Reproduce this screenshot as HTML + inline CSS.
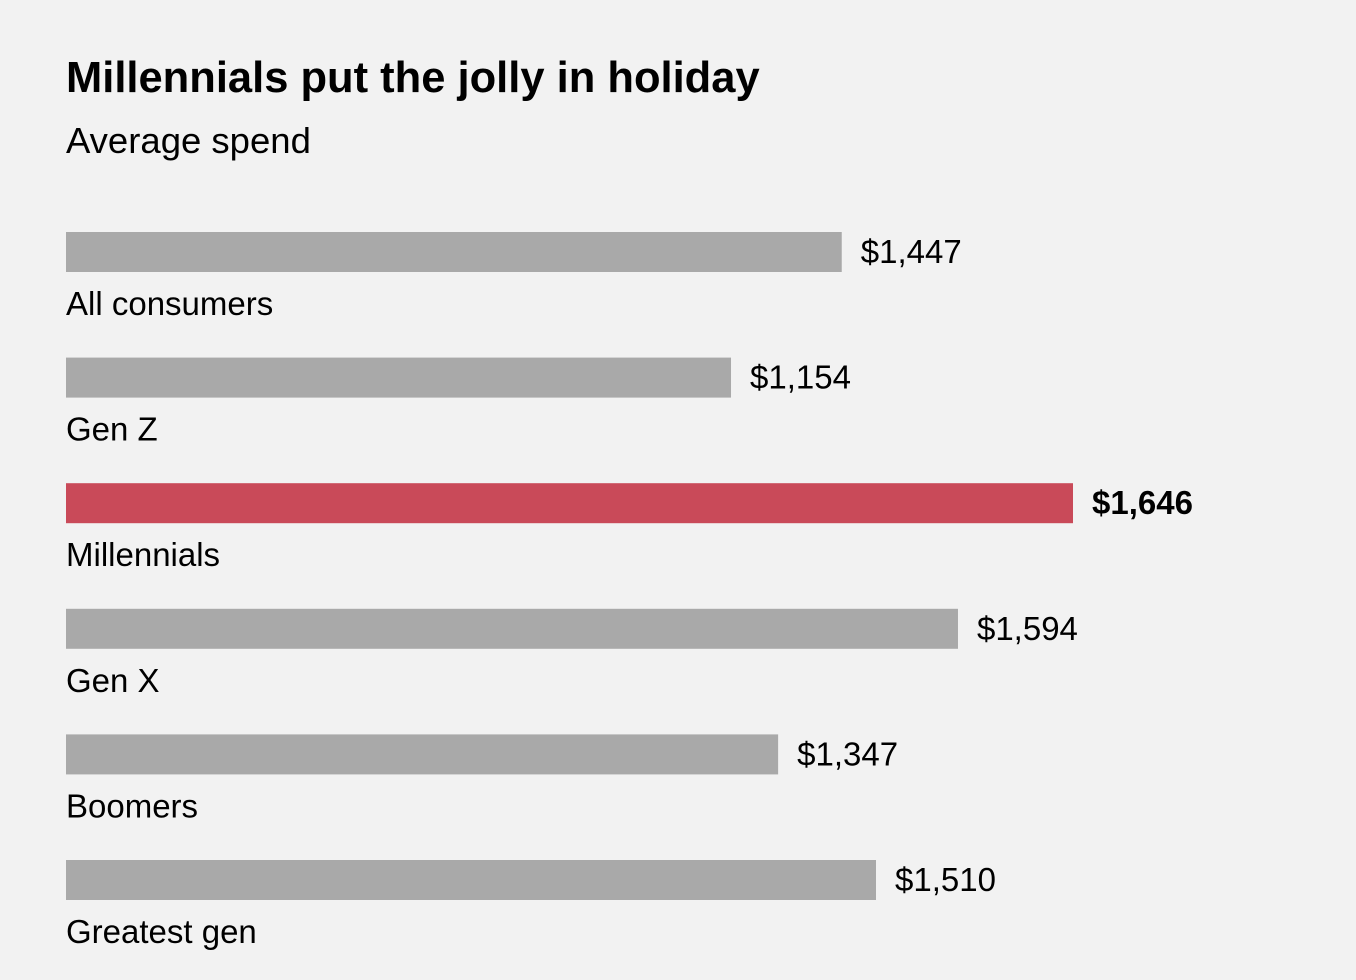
<!DOCTYPE html>
<html><head><meta charset="utf-8"><style>
body{margin:0;background:#f2f2f2;font-family:"Liberation Sans",Arial,sans-serif;}
#c{position:relative;width:1356px;height:980px;overflow:hidden;background:#f2f2f2}
</style></head><body>
<div id="c">
<svg id="s" width="1356" height="980">
<text x="66" y="92" font-size="43.5" font-weight="bold" fill="#000">Millennials put the jolly in holiday</text>
<text x="66" y="153" font-size="36.5" fill="#000">Average spend</text>
</svg>
</div>
<script>
const categories=["All consumers","Gen Z","Millennials","Gen X","Boomers","Greatest gen"];
const spendLabels=["$1,447","$1,154","$1,646","$1,594","$1,347","$1,510"];
const barValues=[1268,1087,1646,1458,1164,1324];
const highlight=[false,false,true,false,false,false];
const svg=document.getElementById('s');
const NS='http://www.w3.org/2000/svg';
const x0=66, maxW=1007, maxV=1646;
function xs(v){return v/maxV*maxW;}
function yTop(i){return 232+i*125.6;}
categories.forEach((cat,i)=>{
  const y=yTop(i), w=xs(barValues[i]);
  const r=document.createElementNS(NS,'rect');
  r.setAttribute('x',x0);r.setAttribute('y',y);r.setAttribute('width',w);r.setAttribute('height',40);
  r.setAttribute('fill',highlight[i]?'#c94a59':'#a9a9a9');
  
  
  svg.appendChild(r);
  const v=document.createElementNS(NS,'text');
  v.setAttribute('x',x0+w+19);v.setAttribute('y',y+31);v.setAttribute('font-size','33');
  if(highlight[i])v.setAttribute('font-weight','bold');
  v.textContent=spendLabels[i];
  
  
  svg.appendChild(v);
  const l=document.createElementNS(NS,'text');
  l.setAttribute('x',x0);l.setAttribute('y',y+83);l.setAttribute('font-size','33');
  l.textContent=cat;
  
  
  svg.appendChild(l);
});
</script>
</body></html>
